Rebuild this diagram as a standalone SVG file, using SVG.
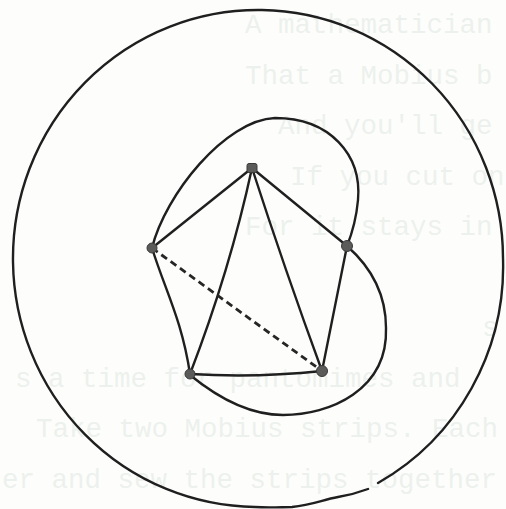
<svg xmlns="http://www.w3.org/2000/svg" width="506" height="509" viewBox="0 0 506 509">
<style>
.ghost{font-family:"Liberation Mono","DejaVu Sans Mono",monospace;font-size:27.5px;fill:#edf1ed}
.ln{fill:none;stroke:#1f1f1f;stroke-width:2.4;stroke-linecap:round;stroke-linejoin:round}
.dash{stroke-dasharray:7 4.5;stroke-linecap:butt;stroke-width:2.8;stroke:#262626}
.nd{fill:#5b5c5a;stroke:#3a3a3a;stroke-width:1}
</style>
<rect width="506" height="509" fill="#fdfefc"/>
<g id="showthrough">
<text class="ghost" x="245" y="33">A mathematician</text>
<text class="ghost" x="245" y="84">That a Mobius b</text>
<text class="ghost" x="278" y="134">And you'll ge</text>
<text class="ghost" x="290" y="185">If you cut on</text>
<text class="ghost" x="245" y="235">For it stays in</text>
<text class="ghost" x="482" y="336">s</text>
<text class="ghost" x="15" y="387">s a time for pantomimes and</text>
<text class="ghost" x="36" y="437">Take two Mobius strips. Each</text>
<text class="ghost" x="2" y="488">er and sew the strips together</text>
</g>
<g id="connectors">
<path id="outer-circle" class="ln" d="M378,483 A245,248.5 0 0 0 503,258 A245,248.5 0 0 0 262,10 A245,248.5 0 0 0 13,262 A245,248.5 0 0 0 255,507 C270,508 282,507 292,507 C312,505 322,500 338,497 C350,495 360,492 368,489"/>
<path id="arc-L-R" class="ln" d="M152,248 C165,195 225,120 275,118 C330,118 362,155 358,200 C356,222 351,236 347,246"/>
<path id="arc-R-BL" class="ln" d="M347,246 C372,268 386,295 386,328 C388,390 330,415 283,415 C245,415 212,393 190,375"/>
<path id="e-T-L" class="ln" d="M252,168 L152,248"/>
<path id="e-T-R" class="ln" d="M252,168 L347,246"/>
<path id="e-T-BL" class="ln" d="M252,168 Q230,270 190,374"/>
<path id="e-T-BR" class="ln" d="M252,168 Q285,270 322,371"/>
<path id="e-L-BL" class="ln" d="M152,248 C165,290 182,320 190,374"/>
<path id="e-R-BR" class="ln" d="M347,246 L322,371"/>
<path id="e-BL-BR" class="ln" d="M190,374 Q256,378 322,371"/>
<path id="e-L-BR" class="ln dash" d="M152,248 L322,371"/>
</g>
<g id="node-top"><rect class="nd" x="247" y="163.5" width="10" height="9" rx="2"/></g>
<g id="node-left"><circle class="nd" cx="152" cy="248" r="5"/></g>
<g id="node-right"><circle class="nd" cx="347" cy="246" r="5.5"/></g>
<g id="node-bottom-left"><circle class="nd" cx="190" cy="374" r="5"/></g>
<g id="node-bottom-right"><circle class="nd" cx="322" cy="371" r="5.5"/></g>
</svg>
